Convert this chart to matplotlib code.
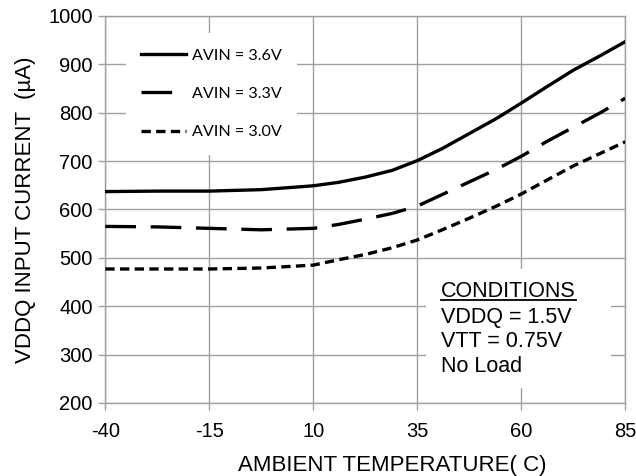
import matplotlib
matplotlib.use("Agg")
import matplotlib.pyplot as plt
from matplotlib.patches import Rectangle

# data
temp = [-40, -27.5, -15, -2.5, 10, 16, 22.5, 29, 35, 41, 47.5, 54, 60, 66, 72.5, 79, 85]
avin_36 = [637, 638, 638, 641, 649, 656, 667, 681, 701, 726, 757, 788, 820, 853, 888, 918, 947]
avin_33 = [565, 564, 561, 558, 561, 569, 580, 592, 607, 631, 657, 683, 710, 740, 770, 800, 830]
avin_30 = [477, 477, 477, 479, 485, 496, 507, 521, 537, 558, 582, 607, 632, 660, 690, 716, 740]
labels = ["AVIN = 3.6V", "AVIN = 3.3V", "AVIN = 3.0V"]
xticks = [-40, -15, 10, 35, 60, 85]
yticks = [200, 300, 400, 500, 600, 700, 800, 900, 1000]
conditions = ["VDDQ = 1.5V", "VTT = 0.75V", "No Load"]

plt.rcParams['font.family'] = ['Liberation Sans', 'DejaVu Sans']
plt.rcParams['axes.unicode_minus'] = False
grid_c = '#a0a0a0'

fig = plt.figure(figsize=(6.36, 4.76), dpi=100)
ax = fig.add_axes([0.1656, 0.1534, 0.8176, 0.8130])

ax.plot(temp, avin_36, color='black', lw=2.4, label=labels[0], zorder=3)
ax.plot(temp, avin_33, color='black', lw=2.4, dashes=(9.2, 4.4), label=labels[1], zorder=3)
ax.plot(temp, avin_30, color='black', lw=2.4, dashes=(2.8, 1.6), label=labels[2], zorder=3)

ax.set_xlim(-40, 85)
ax.set_ylim(200, 1000)
ax.set_xticks(xticks)
ax.set_yticks(yticks)
ax.grid(True, color=grid_c, lw=1.0, zorder=0)
ax.set_axisbelow(True)
for s in ax.spines.values():
    s.set_color(grid_c)
    s.set_linewidth(1.0)
ax.tick_params(axis='both', colors=grid_c, length=5, width=1.0, labelsize=14.5, labelcolor='black')
ax.tick_params(axis='x', pad=9)
ax.tick_params(axis='y', pad=4)

ax.set_xlabel("AMBIENT TEMPERATURE( C)", fontsize=16, labelpad=6)
ax.xaxis.set_label_coords(0.551, -0.135)
ax.set_ylabel("VDDQ INPUT CURRENT  (\u00b5A)", fontsize=16, labelpad=9)

# legend box (white, hides grid)
leg = ax.legend(loc='upper left', bbox_to_anchor=(0.039, 0.956), borderaxespad=0,
                frameon=True, fancybox=False, facecolor='white', edgecolor='none',
                framealpha=1, prop={'family': 'Lato', 'size': 11.6},
                handlelength=2.8, handletextpad=0.35, labelspacing=1.5, borderpad=0.95)

# conditions box
ax.add_patch(Rectangle((0.617, 0.039), 0.3555, 0.307, transform=ax.transAxes,
                       facecolor='white', edgecolor='none', zorder=1))
t0 = ax.text(0.6454, 0.2747, "CONDITIONS", transform=ax.transAxes, fontsize=15.5,
             va='baseline', zorder=2)
ys = [0.2075, 0.1439, 0.0809]
for txt, y in zip(conditions, ys):
    ax.text(0.6454, y, txt, transform=ax.transAxes, fontsize=15.5, va='baseline', zorder=2)

# underline CONDITIONS
fig.canvas.draw()
bb = t0.get_window_extent(fig.canvas.get_renderer())
bb = bb.transformed(ax.transAxes.inverted())
ax.plot([bb.x0, bb.x1], [0.2747 - 0.008, 0.2747 - 0.008], transform=ax.transAxes,
        color='black', lw=1.3, clip_on=False, zorder=2)

plt.savefig("out.png", dpi=100)
